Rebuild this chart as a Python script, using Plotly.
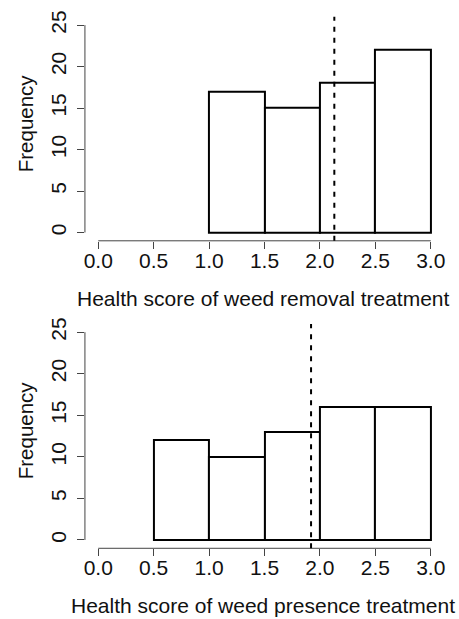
import plotly.graph_objects as go

# ---- data ----
bin_edges = [0.0, 0.5, 1.0, 1.5, 2.0, 2.5, 3.0]
removal_counts = [0, 0, 17, 15, 18, 22]
presence_counts = [0, 12, 10, 13, 16, 16]
removal_mean = 2.13
presence_mean = 1.92
x_ticks = [0.0, 0.5, 1.0, 1.5, 2.0, 2.5, 3.0]
x_tick_labels = ["0.0", "0.5", "1.0", "1.5", "2.0", "2.5", "3.0"]
y_ticks = [0, 5, 10, 15, 20, 25]
y_tick_labels = ["0", "5", "10", "15", "20", "25"]
removal_title = "Health score of weed removal treatment"
presence_title = "Health score of weed presence treatment"
y_title = "Frequency"

W, H = 459, 619
FONT = "Liberation Sans, Arial, sans-serif"
AXIS_COLOR = "#444444"
TEXT_COLOR = "#111111"

centers = [(bin_edges[i] + bin_edges[i + 1]) / 2 for i in range(len(bin_edges) - 1)]
widths = [bin_edges[i + 1] - bin_edges[i] for i in range(len(bin_edges) - 1)]

fig = go.Figure()


def add_hist(counts, xa, ya):
    xs = [c for c, n in zip(centers, counts) if n > 0]
    ws = [w for w, n in zip(widths, counts) if n > 0]
    ys = [n for n in counts if n > 0]
    fig.add_trace(go.Bar(
        x=xs, y=ys, width=ws, base=0,
        marker=dict(color="white", line=dict(color="black", width=2)),
        xaxis=xa, yaxis=ya, showlegend=False, hoverinfo="x+y",
    ))


add_hist(removal_counts, "x", "y")
add_hist(presence_counts, "x2", "y2")

xdom = [84.3 / W, 445.0 / W]
ydom_top = [1 - 237.1 / H, 1 - 10.9 / H]
ydom_bot = [1 - 547.6 / H, 1 - 321.0 / H]

xcommon = dict(
    range=[-0.12, 3.12], domain=xdom, tickmode="array",
    tickvals=x_ticks, ticktext=x_tick_labels, ticks="outside", ticklen=7,
    tickwidth=1, tickcolor=AXIS_COLOR, showgrid=False, zeroline=False,
    showline=False, tickfont=dict(family=FONT, size=21, color=TEXT_COLOR),
    ticklabelstandoff=-6,
)
ycommon = dict(
    range=[-1, 26], tickmode="array", tickvals=y_ticks, ticktext=y_tick_labels,
    ticks="outside", ticklen=7, tickwidth=1, tickcolor=AXIS_COLOR,
    showgrid=False, zeroline=False, showline=False, tickangle=-90,
    tickfont=dict(family=FONT, size=21, color=TEXT_COLOR),
    ticklabelstandoff=3,
)

fig.update_layout(
    width=W, height=H, margin=dict(l=0, r=0, t=0, b=0),
    paper_bgcolor="white", plot_bgcolor="white",
    xaxis=dict(anchor="y", **xcommon),
    yaxis=dict(anchor="x", domain=ydom_top, **ycommon),
    xaxis2=dict(anchor="y2", **xcommon),
    yaxis2=dict(anchor="x2", domain=ydom_bot, **ycommon),
    bargap=0, showlegend=False,
)

shapes = []
for xr, yr, mean in [("x", "y", removal_mean), ("x2", "y2", presence_mean)]:
    # R-style axis lines spanning only the tick range
    shapes.append(dict(type="line", xref=xr, yref=yr + " domain",
                       x0=min(x_ticks), x1=max(x_ticks), y0=0, y1=0,
                       line=dict(color=AXIS_COLOR, width=1)))
    shapes.append(dict(type="line", xref=xr + " domain", yref=yr,
                       x0=0, x1=0, y0=min(y_ticks), y1=max(y_ticks),
                       line=dict(color=AXIS_COLOR, width=1)))
    # mean line
    shapes.append(dict(type="line", xref=xr, yref=yr + " domain",
                       x0=mean, x1=mean, y0=0, y1=1,
                       line=dict(color="black", width=2, dash="5px,6px")))
fig.update_layout(shapes=shapes)

annotations = []
for title, ycenter in [(removal_title, 295), (presence_title, 605)]:
    annotations.append(dict(text=title, xref="paper", yref="paper",
                            x=263.5 / W, y=1 - ycenter / H,
                            xanchor="center", yanchor="middle", showarrow=False,
                            font=dict(family=FONT, size=21, color=TEXT_COLOR)))
for ycenter in [118, 428]:
    annotations.append(dict(text=y_title, xref="paper", yref="paper",
                            x=24.5 / W, y=1 - ycenter / H, textangle=-90,
                            xanchor="center", yanchor="middle", showarrow=False,
                            font=dict(family=FONT, size=20.5, color=TEXT_COLOR)))
fig.update_layout(annotations=annotations)

fig.write_html(
    "out.html",
    config={"displayModeBar": False},
    post_script="document.body.style.margin='0';document.body.style.overflow='hidden';",
)
